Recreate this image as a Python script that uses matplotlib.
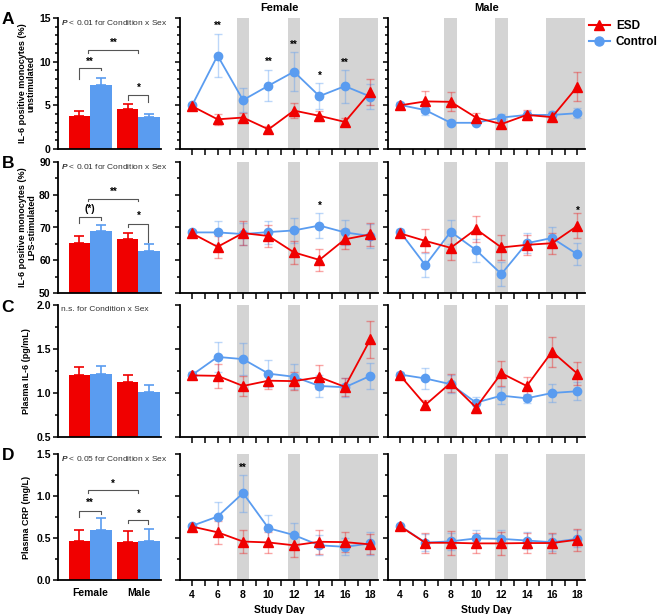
import numpy as np
import matplotlib
matplotlib.use('Agg')
import matplotlib.pyplot as plt
from matplotlib.ticker import MultipleLocator, FormatStrFormatter
from matplotlib.lines import Line2D

plt.rcParams['font.family'] = ['Liberation Sans', 'DejaVu Sans']
plt.rcParams['font.weight'] = 'bold'
plt.rcParams['mathtext.fontset'] = 'custom'
plt.rcParams['mathtext.it'] = 'Liberation Sans:italic'
plt.rcParams['mathtext.rm'] = 'Liberation Sans'

RED = '#F00000'
BLUE = '#5A9CF0'
SHADE = '#D4D4D4'

days = [4, 6, 8, 10, 12, 14, 16, 18]
sexes = ['Female', 'Male']
shaded_days = [(7.5, 8.5), (11.5, 12.5), (15.5, 18.6)]

# ---- bar data [female, male] ----
a_bar_esd = [3.82, 4.58]
a_bar_esd_err = [0.53, 0.54]
a_bar_ctl = [7.33, 3.66]
a_bar_ctl_err = [0.77, 0.38]

b_bar_esd = [65.4, 66.4]
b_bar_esd_err = [2.0, 2.0]
b_bar_ctl = [68.8, 62.9]
b_bar_ctl_err = [1.9, 2.0]

c_bar_esd = [1.20, 1.12]
c_bar_esd_err = [0.09, 0.08]
c_bar_ctl = [1.22, 1.01]
c_bar_ctl_err = [0.09, 0.08]

d_bar_esd = [0.463, 0.447]
d_bar_esd_err = [0.137, 0.14]
d_bar_ctl = [0.59, 0.47]
d_bar_ctl_err = [0.145, 0.136]

# ---- time courses ----
a_f_ctl = [5.0, 10.7, 5.6, 7.25, 8.85, 6.05, 7.2, 6.0]
a_f_ctl_err = [0.3, 2.5, 1.4, 1.8, 2.2, 1.5, 1.9, 1.4]
a_f_esd = [4.9, 3.4, 3.6, 2.25, 4.4, 3.8, 3.1, 6.55]
a_f_esd_err = [0.3, 0.6, 0.5, 0.4, 0.9, 0.6, 0.5, 1.5]
a_m_ctl = [5.05, 4.45, 3.0, 3.0, 3.6, 3.9, 3.9, 4.1]
a_m_ctl_err = [0.3, 0.6, 0.3, 0.3, 0.4, 0.4, 0.5, 0.6]
a_m_esd = [5.0, 5.45, 5.4, 3.6, 2.85, 3.9, 3.65, 7.15]
a_m_esd_err = [0.3, 1.2, 1.1, 0.5, 0.4, 0.6, 0.5, 1.7]

b_f_ctl = [68.5, 68.5, 68.0, 68.6, 69.1, 70.6, 68.5, 67.4]
b_f_ctl_err = [0.8, 3.4, 3.4, 3.5, 3.9, 3.7, 3.8, 3.6]
b_f_esd = [68.2, 64.1, 68.3, 67.4, 62.4, 60.1, 66.4, 67.9]
b_f_esd_err = [0.8, 3.3, 3.6, 3.5, 3.4, 3.4, 3.0, 3.5]
b_m_ctl = [68.7, 58.5, 68.7, 63.1, 55.8, 65.2, 66.8, 61.8]
b_m_ctl_err = [0.8, 3.6, 3.6, 3.5, 3.7, 3.0, 3.2, 3.4]
b_m_esd = [68.2, 65.9, 63.8, 69.5, 63.9, 64.7, 65.2, 70.5]
b_m_esd_err = [0.8, 3.5, 3.8, 4.0, 3.8, 3.0, 3.2, 3.8]

c_f_ctl = [1.205, 1.41, 1.385, 1.22, 1.185, 1.08, 1.065, 1.195]
c_f_ctl_err = [0.03, 0.17, 0.18, 0.15, 0.14, 0.13, 0.11, 0.15]
c_f_esd = [1.2, 1.195, 1.08, 1.14, 1.135, 1.18, 1.07, 1.61]
c_f_esd_err = [0.03, 0.14, 0.11, 0.1, 0.1, 0.14, 0.1, 0.21]
c_m_ctl = [1.21, 1.165, 1.10, 0.89, 0.97, 0.94, 1.0, 1.02]
c_m_ctl_err = [0.03, 0.12, 0.1, 0.07, 0.1, 0.05, 0.1, 0.1]
c_m_esd = [1.2, 0.865, 1.115, 0.835, 1.225, 1.08, 1.47, 1.22]
c_m_esd_err = [0.03, 0.05, 0.1, 0.06, 0.14, 0.1, 0.17, 0.13]

d_f_ctl = [0.645, 0.755, 1.035, 0.617, 0.535, 0.413, 0.395, 0.435]
d_f_ctl_err = [0.02, 0.17, 0.22, 0.16, 0.14, 0.12, 0.1, 0.14]
d_f_esd = [0.636, 0.568, 0.458, 0.447, 0.413, 0.455, 0.451, 0.424]
d_f_esd_err = [0.02, 0.14, 0.14, 0.12, 0.14, 0.14, 0.12, 0.12]
d_m_ctl = [0.645, 0.445, 0.46, 0.495, 0.49, 0.47, 0.45, 0.49]
d_m_ctl_err = [0.02, 0.1, 0.1, 0.1, 0.1, 0.1, 0.1, 0.1]
d_m_esd = [0.64, 0.443, 0.443, 0.436, 0.436, 0.44, 0.44, 0.48]
d_m_esd_err = [0.02, 0.12, 0.14, 0.12, 0.14, 0.12, 0.12, 0.13]

# significance marks on the time courses: (day, label, y)
a_f_stars = [(6, '**', 14.1), (10, '**', 9.95), (12, '**', 11.9), (14, '*', 8.4), (16, '**', 9.9)]
b_f_stars = [(14, '*', 76.6)]
b_m_stars = [(18, '*', 75.0)]
d_f_stars = [(8, '**', 1.33)]

fig = plt.figure(figsize=(6.62, 6.14), dpi=100)
W, H = 662.0, 614.0


def px_axes(x0, x1, y0, y1):
    return fig.add_axes([x0 / W, 1 - y1 / H, (x1 - x0) / W, (y1 - y0) / H])


rows = [(18, 149), (162, 293), (305, 437), (454, 580)]
ylims = [(0, 15), (50, 90), (0.5, 2.0), (0, 1.5)]
majors = [5, 10, 0.5, 0.5]
minors = [1, 5, 0.25, 0.25]
fmts = ['%d', '%d', '%.1f', '%.1f']
ylabels = ['IL-6 positive monocytes (%)\nunstimulated',
           'IL-6 positive monocytes (%)\nLPS-stimulated',
           'Plasma IL-6 (pg/mL)', 'Plasma CRP (mg/L)']
letters = ['A', 'B', 'C', 'D']
notes = [r'$P$ < 0.01 for Condition x Sex', r'$P$ < 0.01 for Condition x Sex',
         'n.s. for Condition x Sex', r'$P$ < 0.05 for Condition x Sex']

bar_data = [(a_bar_esd, a_bar_esd_err, a_bar_ctl, a_bar_ctl_err),
            (b_bar_esd, b_bar_esd_err, b_bar_ctl, b_bar_ctl_err),
            (c_bar_esd, c_bar_esd_err, c_bar_ctl, c_bar_ctl_err),
            (d_bar_esd, d_bar_esd_err, d_bar_ctl, d_bar_ctl_err)]
female_data = [(a_f_esd, a_f_esd_err, a_f_ctl, a_f_ctl_err),
               (b_f_esd, b_f_esd_err, b_f_ctl, b_f_ctl_err),
               (c_f_esd, c_f_esd_err, c_f_ctl, c_f_ctl_err),
               (d_f_esd, d_f_esd_err, d_f_ctl, d_f_ctl_err)]
male_data = [(a_m_esd, a_m_esd_err, a_m_ctl, a_m_ctl_err),
             (b_m_esd, b_m_esd_err, b_m_ctl, b_m_ctl_err),
             (c_m_esd, c_m_esd_err, c_m_ctl, c_m_ctl_err),
             (d_m_esd, d_m_esd_err, d_m_ctl, d_m_ctl_err)]
female_stars = [a_f_stars, b_f_stars, [], d_f_stars]
male_stars = [[], b_m_stars, [], []]

# brackets: (x1, x2, y, leg1_end, leg2_end, label, label_y)
brackets = [
    [(-0.225, 0.225, 9.3, 8.0, 9.0, '**', 10.0),
     (-0.04, 1.0, 11.3, 11.0, 11.0, '**', 12.2),
     (0.79, 1.21, 6.2, 5.6, 5.4, '*', 7.0)],
    [(-0.225, 0.225, 73.3, 71.3, 72.2, '(*)', 75.6),
     (-0.04, 1.0, 78.8, 78.2, 78.2, '**', 81.0),
     (0.79, 1.21, 71.1, 70.1, 65.5, '*', 73.5)],
    [],
    [(-0.225, 0.225, 0.826, 0.746, 0.787, '**', 0.92),
     (-0.04, 1.0, 1.068, 1.034, 1.034, '*', 1.15),
     (0.79, 1.21, 0.713, 0.68, 0.67, '*', 0.79)],
]


def style(ax, i):
    for s in ['top', 'right']:
        ax.spines[s].set_visible(False)
    for s in ['left', 'bottom']:
        ax.spines[s].set_linewidth(1.3)
    ax.set_ylim(*ylims[i])
    ax.yaxis.set_major_locator(MultipleLocator(majors[i]))
    ax.yaxis.set_minor_locator(MultipleLocator(minors[i]))
    ax.yaxis.set_major_formatter(FormatStrFormatter(fmts[i]))
    ax.tick_params(axis='y', which='major', length=3.8, width=1.1, labelsize=7.5, pad=1.5)
    ax.tick_params(axis='y', which='minor', length=2.5, width=1.1)


def course(ax, i, data, stars):
    esd, esd_err, ctl, ctl_err = data
    style(ax, i)
    for a, b in shaded_days:
        ax.axvspan(a, b, color=SHADE, lw=0, zorder=0)
    ax.errorbar(days, ctl, yerr=ctl_err, fmt='none', ecolor=BLUE, alpha=0.4,
                capsize=3, elinewidth=1, capthick=1, zorder=2)
    ax.errorbar(days, esd, yerr=esd_err, fmt='none', ecolor=RED, alpha=0.35,
                capsize=3, elinewidth=1, capthick=1, zorder=2)
    ax.plot(days, ctl, '-o', color=BLUE, lw=1.3, ms=6, zorder=3)
    ax.plot(days, esd, '-^', color=RED, lw=1.3, ms=6.5, zorder=4)
    for d, lab, y in stars:
        ax.text(d, y, lab, ha='center', va='center', fontsize=7)
    ax.set_xlim(3.05, 18.6)
    ax.xaxis.set_major_locator(MultipleLocator(2))
    ax.xaxis.set_minor_locator(MultipleLocator(1))
    ax.tick_params(axis='x', which='both', length=4, width=1.1, labelsize=7.5)
    ax.tick_params(axis='y', labelleft=False)
    if i < 3:
        ax.tick_params(axis='x', labelbottom=False)
    else:
        ax.set_xlabel('Study Day', fontsize=7.5, fontweight='bold', labelpad=3)


for i in range(4):
    y0, y1 = rows[i]

    # bar panel
    ax = px_axes(58, 161, y0, y1)
    style(ax, i)
    esd, esd_err, ctl, ctl_err = bar_data[i]
    x = np.arange(len(sexes))
    ax.bar(x - 0.225, esd, 0.45, color=RED, zorder=2)
    ax.bar(x + 0.225, ctl, 0.45, color=BLUE, zorder=2)
    ax.errorbar(x - 0.225, esd, yerr=[np.zeros(2), esd_err], fmt='none', ecolor=RED,
                capsize=3.5, elinewidth=1.2, capthick=1.2, zorder=1)
    ax.errorbar(x + 0.225, ctl, yerr=[np.zeros(2), ctl_err], fmt='none', ecolor=BLUE,
                capsize=3.5, elinewidth=1.2, capthick=1.2, zorder=1)
    ax.set_xlim(-0.67, 1.47)
    ax.set_xticks(x)
    ax.tick_params(axis='x', length=0, labelsize=7.5, pad=6)
    if i < 3:
        ax.set_xticklabels([])
    else:
        ax.set_xticklabels(sexes, fontweight='bold')
    for bx1, bx2, by, l1, l2, lab, ly in brackets[i]:
        ax.plot([bx1, bx1, bx2, bx2], [l1, by, by, l2], color='#555555', lw=0.8)
        ax.text((bx1 + bx2) / 2, ly, lab, ha='center', va='center', fontsize=7)
    ax.text(0.03, 0.965, notes[i], transform=ax.transAxes, fontsize=6,
            fontweight='normal', color='#333333', ha='left', va='center')
    fig.text(27 / W, 1 - (y0 + y1) / 2 / H, ylabels[i], rotation=90, ha='center',
             va='center', fontsize=6.5, fontweight='bold', linespacing=1.0)
    fig.text(8 / W, 1 - (y0 + 2) / H, letters[i], fontsize=12.5, fontweight='bold',
             ha='center', va='center')

    # female and male time courses
    axf = px_axes(180, 378, y0, y1)
    course(axf, i, female_data[i], female_stars[i])
    axm = px_axes(388, 585, y0, y1)
    course(axm, i, male_data[i], male_stars[i])
    if i == 0:
        axf.set_title('Female', fontsize=8, fontweight='bold', pad=5)
        axm.set_title('Male', fontsize=8, fontweight='bold', pad=5)

handles = [Line2D([], [], color=RED, marker='^', ms=7, lw=1.5),
           Line2D([], [], color=BLUE, marker='o', ms=6.5, lw=1.5)]
fig.legend(handles, ['ESD', 'Control'], loc='upper left', bbox_to_anchor=(584 / W, 1 - 15 / H),
           frameon=False, prop={'size': 8.5, 'weight': 'bold'}, handlelength=1.8,
           handletextpad=0.5, labelspacing=0.35, borderaxespad=0)

fig.savefig('out.png', dpi=100)
